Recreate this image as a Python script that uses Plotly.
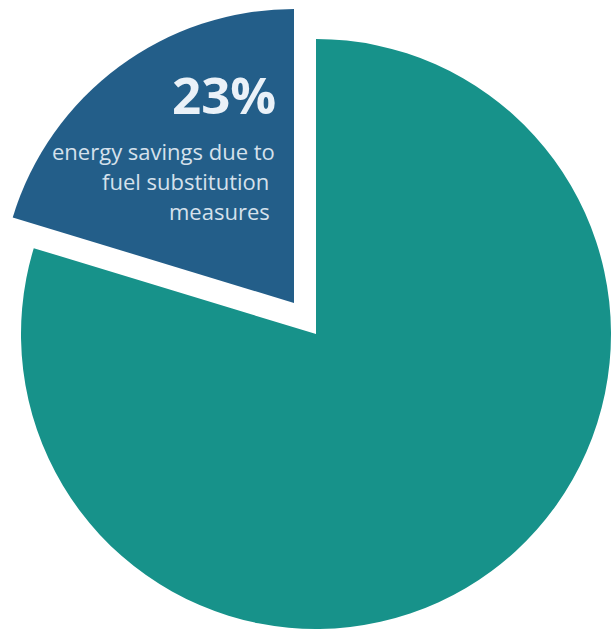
import plotly.graph_objects as go

# Data
labels = ["Fuel substitution measures", "Other"]
slice_share = [20.3, 79.7]          # share as drawn in the picture
headline = "23%"
caption_lines = ["energy savings due to", "fuel substitution\u00a0", "measures\u00a0"]

W, H = 613, 629
BLUE = "#235e89"
TEAL = "#17928a"
CLEAR = "rgba(0,0,0,0)"

# start the first slice so that it ends at 12 o'clock (sits left of the top)
rot = -360 * slice_share[0] / sum(slice_share)

def dom(cx, cy, r):
    # cx, cy in px from top-left
    return dict(x=[(cx - r) / W, (cx + r) / W],
                y=[(H - cy - r) / H, (H - cy + r) / H])

fig = go.Figure()
# Main (teal) pie, the pulled-out slice left transparent
fig.add_trace(go.Pie(
    labels=labels, values=slice_share, sort=False, direction="clockwise",
    rotation=rot,
    marker=dict(colors=[CLEAR, TEAL], line=dict(width=0)),
    textinfo="none", hoverinfo="label+percent", showlegend=False,
    domain=dom(316, 334, 295),
))
# Exploded (blue) slice
fig.add_trace(go.Pie(
    labels=labels, values=slice_share, sort=False, direction="clockwise",
    rotation=rot,
    marker=dict(colors=[BLUE, CLEAR], line=dict(width=0)),
    textinfo="none", hoverinfo="label+percent", showlegend=False,
    domain=dom(294, 303, 294),
))

anns = [dict(text=f"<b>{headline}</b>", x=278 / W, y=1 - 94 / H,
             font=dict(family="Open Sans", size=51, color="#eaf1f8"))]
for i, line in enumerate(caption_lines):
    anns.append(dict(text=line, x=277 / W, y=1 - (151 + 30 * i) / H,
                     font=dict(family="Open Sans", size=22, color="#d5e1ec")))
for a in anns:
    a.update(xref="paper", yref="paper", xanchor="right", yanchor="middle",
             showarrow=False, align="right")

fig.update_layout(width=W, height=H, margin=dict(l=0, r=0, t=0, b=0),
                  paper_bgcolor="white", plot_bgcolor="white", annotations=anns)
fig.write_html("out.html", config={"displayModeBar": False},
               post_script="document.body.style.margin='0';")
